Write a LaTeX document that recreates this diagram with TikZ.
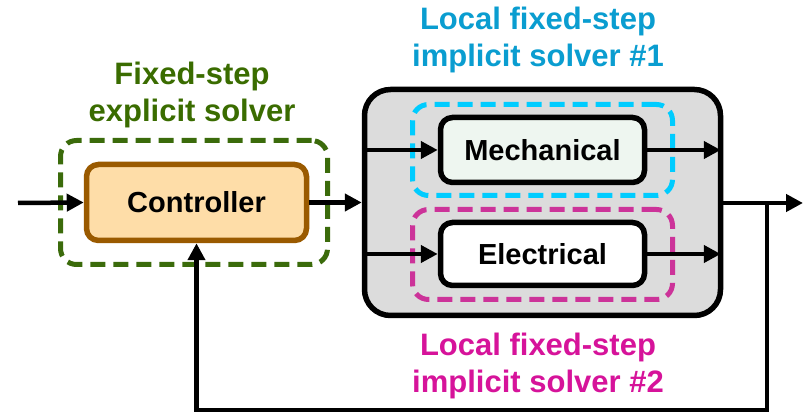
\documentclass[tikz,border=0pt]{standalone}
\usepackage{fontspec}
\setmainfont{Liberation Sans}
\usetikzlibrary{arrows.meta}

\definecolor{ctrlfill}{HTML}{FEDDA8}
\definecolor{ctrledge}{HTML}{9A5A00}
\definecolor{mechfill}{HTML}{EEF6F0}
\definecolor{plantfill}{HTML}{DCDCDC}
\definecolor{greendash}{HTML}{3B6B0B}
\definecolor{greentext}{HTML}{3A6C00}
\definecolor{cyandash}{HTML}{00CCFF}
\definecolor{cyantext}{HTML}{0A9DD0}
\definecolor{magdash}{HTML}{CC3399}
\definecolor{magtext}{HTML}{D6139A}

\tikzset{
  block/.style={draw=black, line width=5.5pt, rounded corners=12pt,
    font=\fontsize{29}{33}\selectfont\bfseries, inner sep=0pt},
  solverbox/.style={line width=5pt, rounded corners=16pt,
    dash pattern=on 15pt off 8pt, inner sep=0pt},
  solverlabel/.style={font=\fontsize{31}{37}\selectfont\bfseries,
    align=center, inner sep=0pt},
  flow/.style={line width=4.5pt, line join=miter,
    -{Triangle[length=17pt,width=17pt]}},
  wire/.style={line width=4.5pt}
}

\begin{document}
\begin{tikzpicture}[x=1pt,y=-1pt]
  \useasboundingbox (0,0) rectangle (804,414);

  % plant: mechanical and electrical subsystems
  \node[draw=black, line width=5.5pt, fill=plantfill, rounded corners=26pt,
        minimum width=356pt, minimum height=226pt, inner sep=0pt]
        (plant) at (542.5,202.5) {};
  \node[solverbox, draw=cyandash, minimum width=260pt, minimum height=91pt]
        (solver1) at (542.5,150) {};
  \node[solverbox, draw=magdash, minimum width=260pt, minimum height=90pt]
        (solver2) at (542.5,254.5) {};
  \node[block, fill=mechfill, minimum width=204pt, minimum height=65pt]
        (mech) at (542.5,150) {Mechanical};
  \node[block, fill=white, minimum width=204pt, minimum height=63pt]
        (elec) at (542.5,254) {Electrical};

  % controller with its explicit solver
  \node[solverbox, draw=greendash, minimum width=267pt, minimum height=124pt]
        (solver0) at (194,202.5) {};
  \node[block, draw=ctrledge, fill=ctrlfill, minimum width=220pt, minimum height=76pt]
        (ctrl) at (196.5,202.5) {Controller};

  % solver labels
  \node[solverlabel, text=greentext] (lab0) at (192,94.5)
        {Fixed-step\\explicit solver};
  \node[solverlabel, text=cyantext] (lab1) at (538,40)
        {Local fixed-step\\implicit solver \#1};
  \node[solverlabel, text=magtext] (lab2) at (538,366)
        {Local fixed-step\\implicit solver \#2};

  % signal flow
  \coordinate (in) at (18,203);
  \coordinate (out) at (803,203);
  \coordinate (tap) at (767,203);
  \coordinate (fbR) at (767,410);

  \draw[flow] (in) -- (ctrl.west);
  \draw[flow] (ctrl.east) -- (plant.west |- ctrl.east);
  \draw[flow] (plant.west |- mech.west) -- (mech.west);
  \draw[flow] (plant.west |- elec.west) -- (elec.west);
  \draw[flow] (mech.east) -- ([xshift=-2.5pt]plant.east |- mech.east);
  \draw[flow] (elec.east) -- ([xshift=-2.5pt]plant.east |- elec.east);
  \draw[flow] (plant.east |- tap) -- (out);
  \draw[flow] ([yshift=-2pt]tap) -- (fbR) -- (ctrl.south |- fbR) -- (ctrl.south);
\end{tikzpicture}
\end{document}
